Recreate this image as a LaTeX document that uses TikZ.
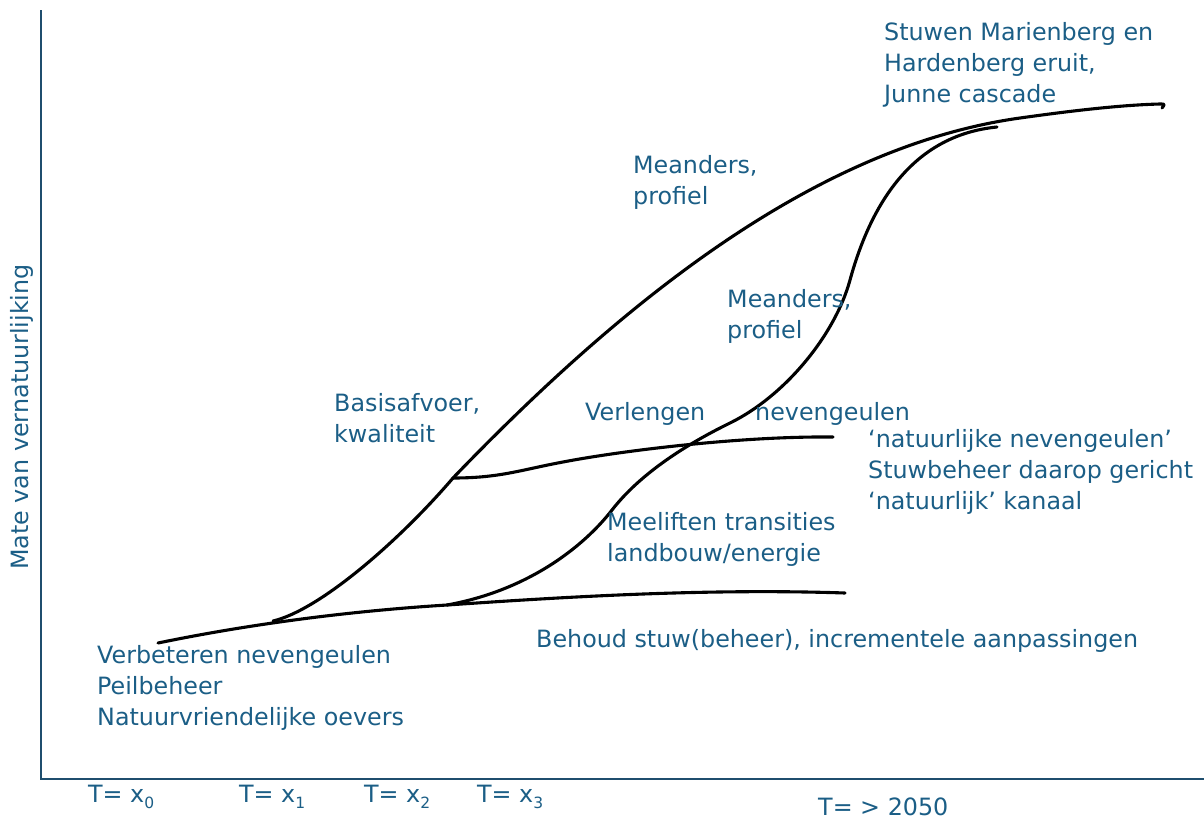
\documentclass[tikz,border=0pt]{standalone}
\usepackage{fontspec}
\setmainfont{DejaVu Sans}
\definecolor{txt}{HTML}{1B5E86}
\definecolor{axis}{HTML}{1F4E6E}
\newcommand{\sbs}[1]{\raisebox{-0.28em}{\fontsize{15.5}{15.5}\selectfont #1}}
\tikzset{
  lbl/.style={anchor=base west, inner sep=0pt, align=left, text=txt,
    font=\fontsize{23.8}{31}\selectfont},
  curve/.style={line width=3.1pt, black, line cap=round, line join=round},
  ax/.style={line width=2.4pt, axis}
}
\begin{document}
\begin{tikzpicture}[x=1pt,y=-1pt]
\useasboundingbox (0,0) rectangle (1204,820);
% axes
\coordinate (o) at (41,779);
\coordinate (ytop) at (41,10);
\coordinate (xend) at (1204,779);
\draw[ax] (ytop) -- (o) -- (xend);
\node[lbl, anchor=center, rotate=90] (ylab) at (22,417) {Mate van vernatuurlijking};
% x labels
\node[lbl] (t0) at (88,802) {T= x\sbs{0}};
\node[lbl] (t1) at (239,802) {T= x\sbs{1}};
\node[lbl] (t2) at (364,802) {T= x\sbs{2}};
\node[lbl] (t3) at (477,802) {T= x\sbs{3}};
\node[lbl] (t4) at (818,815) {T= > 2050};
% key points
\coordinate (a) at (158,643);
\coordinate (c) at (447,605);
\coordinate (d) at (453,478);
\coordinate (e) at (845,593);
\coordinate (f) at (833,437);
\coordinate (g) at (997,127);
\coordinate (h) at (1160,104);
\coordinate (b) at (273,621);
% baseline
\draw[curve] (a) .. controls (250,624) and (350,611) .. (c)
  .. controls (550,598) and (700,588) .. (e);
% main curve
\draw[curve] (b) .. controls (320,610) and (400,540) .. (d)
  .. controls (630,294) and (820,146) .. (1020,118)
  .. controls (1070,111) and (1120,105) .. (h)
  .. controls (1165,104) .. (1162,108);
% branch
\draw[curve] (d) .. controls (500,478) and (520,470) .. (563,462)
  .. controls (620,451) and (740,436) .. (f);
% second S-curve
\draw[curve] (c) .. controls (530,590) and (585,545) .. (612,510)
  .. controls (640,474) and (685,445) .. (730,423)
  .. controls (785,396) and (835,335) .. (850,280)
  .. controls (872,200) and (915,135) .. (g);
% labels
\node[lbl] (n1) at (884,102) {Stuwen Marienberg en\\Hardenberg eruit,\\Junne cascade};
\node[lbl] (n2) at (633,204) {Meanders,\\profiel};
\node[lbl] (n3) at (727,338) {Meanders,\\profiel};
\node[lbl] (n4) at (334,442) {Basisafvoer,\\kwaliteit};
\node[lbl] (n5) at (585,420) {Verlengen};
\node[lbl] (n6) at (755,420) {nevengeulen};
\node[lbl] (n7) at (868,509) {`natuurlijke nevengeulen'\\Stuwbeheer daarop gericht\\`natuurlijk' kanaal};
\node[lbl] (n8) at (607,561) {Meeliften transities\\landbouw/energie};
\node[lbl] (n9) at (536,647) {Behoud stuw(beheer), incrementele aanpassingen};
\node[lbl] (n10) at (97,725) {Verbeteren nevengeulen\\Peilbeheer\\Natuurvriendelijke oevers};
\end{tikzpicture}
\end{document}
